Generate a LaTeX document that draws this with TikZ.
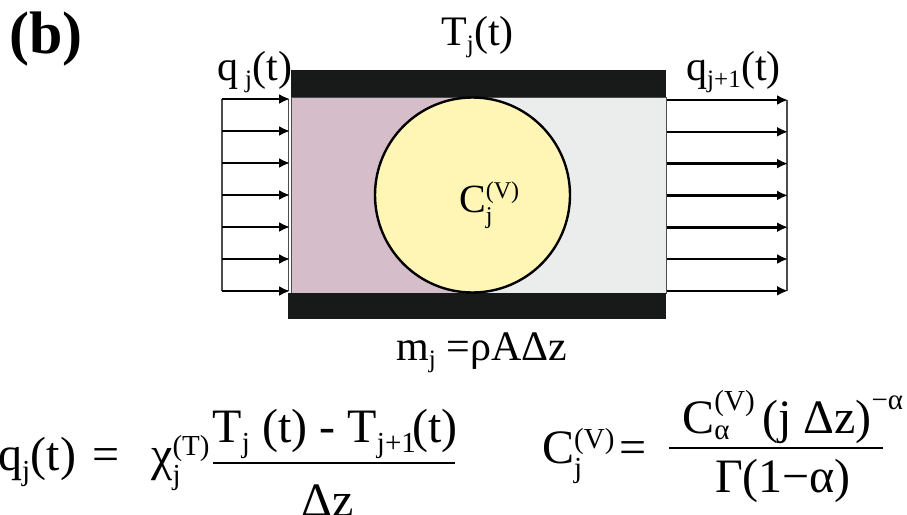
\documentclass[tikz,border=0pt]{standalone}
\usepackage{amsmath}
\usepackage{fontspec}
\setmainfont{Liberation Serif}
\usetikzlibrary{arrows.meta}
\DeclareMathSizes{48}{48}{29}{22}
\DeclareMathSizes{42}{42}{25}{19}
\DeclareMathSizes{40}{40}{24}{18}
\definecolor{mauve}{RGB}{213,189,201}
\definecolor{pale}{RGB}{235,237,236}
\definecolor{cream}{RGB}{255,245,180}
\definecolor{wall}{RGB}{24,26,26}
\tikzset{
  flow/.style={line width=2.6pt, -{Latex[length=11pt,width=10pt]}},
  guide/.style={gray!60!black, line width=1.2pt},
  lbl/.style={anchor=base west, inner sep=0pt, font=\fontsize{42}{48}\selectfont},
  eq/.style={inner sep=0pt, font=\fontsize{48}{56}\selectfont},
}
\begin{document}
\begin{tikzpicture}[x=1pt, y=-1pt]
    \useasboundingbox (0,0) rectangle (907,514);

    % the slab between the two walls
    \fill[mauve] (291,97) rectangle (472,293);
    \fill[pale] (472,97) rectangle (666,293);
    \draw[guide, line width=0.8pt] (291,97) rectangle (666,293);
    \fill[wall] (291,70) rectangle (666,97);
    \fill[wall] (288,293) rectangle (666,319);
    \draw[line width=2.4pt, fill=cream] (472.5,195) circle[radius=97.5pt];

    % incoming and outgoing flux
    \draw[guide] (222,99) -- (222,291);
    \draw[guide] (288.5,99) -- (288.5,291);
    \draw[guide] (787,100) -- (787,291);
    \foreach \k in {0,...,6} {
        \draw[flow] (222,{99+32*\k}) -- (290,{99+32*\k});
        \draw[flow] (667,{100+31.8*\k}) -- (788,{100+31.8*\k});
    }

    \node[anchor=base west, inner sep=0pt, font=\fontsize{60}{66}\selectfont\bfseries] (tag) at (9,53) {(b)};
    \node[lbl] (temp) at (441,45) {T$_{\text{j}}$(t)};
    \node[lbl] (qin) at (217,80) {q\,$_{\text{j}}$(t)};
    \node[lbl] (qout) at (686,80) {q$_{\text{j+1}}$(t)};
    \node[lbl] (mass) at (396,360) {m$_{\text{j}}$ =ρAΔz};
    \node[lbl, font=\fontsize{40}{46}\selectfont] (cap) at (459,212) {C$_{\text{j}}^{\text{(V)}}$};

    % flux law
    \node[eq, anchor=base west] (qlhs) at (-2,470) {q$_{\text{j}}$(t)};
    \node[eq, anchor=base west] (qeq) at (92,470) {=};
    \node[eq, anchor=base west] (chi) at (151,470) {$\text{χ}_{\text{j}}^{\text{(T)}}$};
    \node[eq, anchor=base] (qnum) at (335,442) {T$_{\text{j}}$ (t) - T$_{\text{j+1}}\!$(t)};
    \node[eq, anchor=base] (qden) at (328,516) {Δz};
    \draw[line width=2.4pt] (213,463) -- (455,463);

    % heat capacity
    \node[eq, anchor=base west] (clhs) at (542,463) {C$_{\text{j}}^{\text{(V)}}$};
    \node[eq, anchor=base west] (ceq) at (619,463) {=};
    \node[eq, anchor=base] (cnum) at (793,433) {$\text{C}_{\text{α}}^{\text{(V)}}\;\text{(j Δz)}^{\text{−α}}$};
    \node[eq, anchor=base] (cden) at (783,492) {Γ(1−α)};
    \draw[line width=2.4pt] (669,448) -- (883,448);
\end{tikzpicture}
\end{document}
